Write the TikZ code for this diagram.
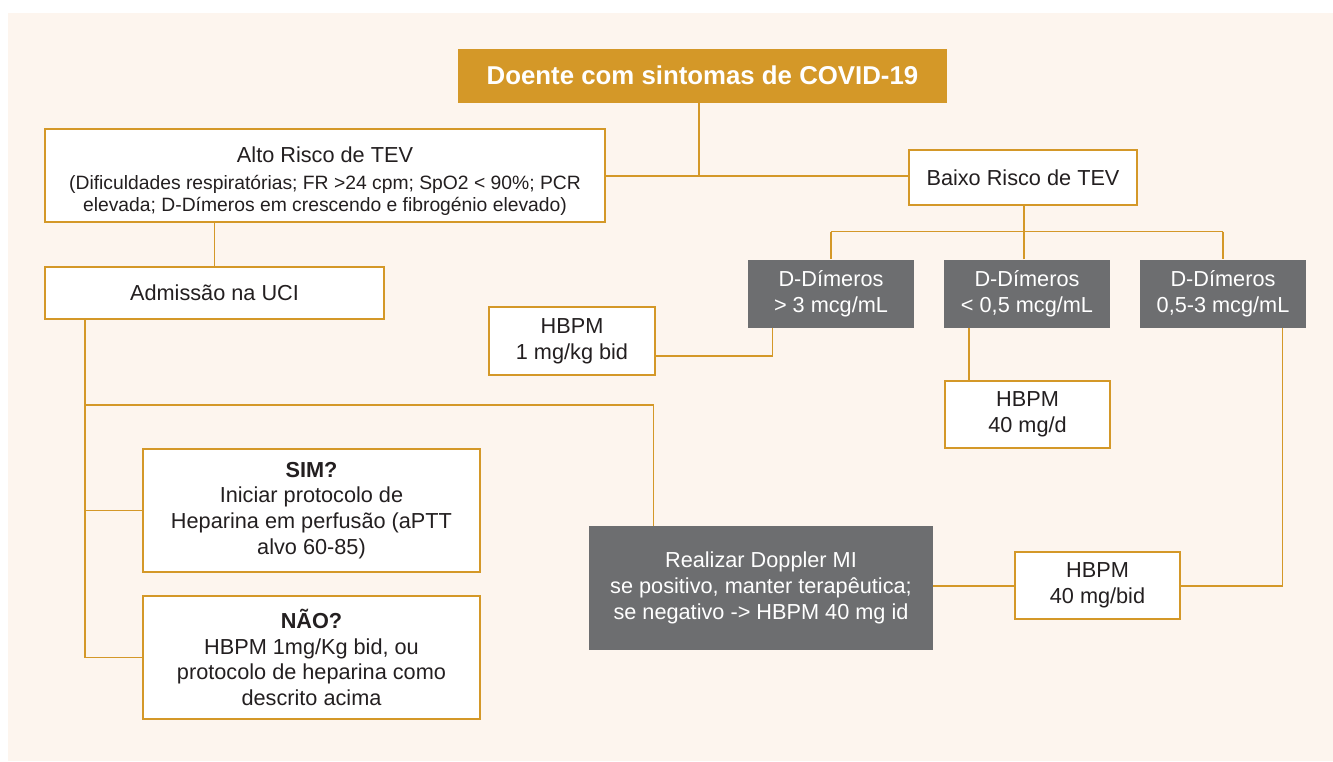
\documentclass[tikz,border=0pt]{standalone}
\usepackage{fontspec}
\setmainfont{Liberation Sans}
\definecolor{gold}{RGB}{212,152,40}
\definecolor{cream}{RGB}{253,245,238}
\definecolor{boxgray}{RGB}{109,110,112}
\definecolor{ink}{RGB}{35,31,32}
\begin{document}
\begin{tikzpicture}[x=1pt,y=-1pt,
  wbox/.style={draw=gold,line width=2pt,fill=white,text=ink,inner sep=0pt,align=center,font=\fontsize{21.7}{25.7}\selectfont},
  gbox/.style={fill=boxgray,text=white,inner sep=0pt,align=center,font=\fontsize{21.7}{26}\selectfont},
  link/.style={draw=gold,line width=1.8pt}]
\useasboundingbox (0,0) rectangle (1333,761);
\fill[cream] (8,13) rectangle (1333,761);

% nodes
\node[fill=gold,text=white,inner sep=0pt,minimum width=489pt,minimum height=54pt,font=\fontsize{25.8}{30}\selectfont\bfseries] (title) at (702.5,75.5) {Doente com sintomas de COVID-19};
\node[wbox,minimum width=560pt,minimum height=93pt,font=\fontsize{19.3}{22}\selectfont] (alto) at (325,175.5)
  {{\fontsize{21.7}{26}\selectfont\rule{0pt}{26pt}Alto Risco de TEV}\\[5pt](Dificuldades respiratórias; FR >24 cpm; SpO2 < 90\%; PCR\\elevada; D-Dímeros em crescendo e fibrogénio elevado)};
\node[wbox,minimum width=228pt,minimum height=55pt] (baixo) at (1023,177.5) {Baixo Risco de TEV};
\node[wbox,minimum width=339pt,minimum height=52pt] (adm) at (214.5,293) {Admissão na UCI};
\node[gbox,minimum width=166pt,minimum height=68pt] (d1) at (831,293.5) {D-Dímeros\\> 3 mcg/mL};
\node[gbox,minimum width=166pt,minimum height=68pt] (d2) at (1027,293.5) {D-Dímeros\\< 0,5 mcg/mL};
\node[gbox,minimum width=166pt,minimum height=68pt] (d3) at (1223,293.5) {D-Dímeros\\0,5-3 mcg/mL};
\node[wbox,minimum width=166pt,minimum height=68pt] (hb1) at (572,341) {HBPM\\1 mg/kg bid};
\node[wbox,minimum width=165pt,minimum height=67pt] (hb2) at (1027.5,414.5) {HBPM\\40 mg/d};
\node[wbox,minimum width=165pt,minimum height=67pt] (hb3) at (1097.5,585.5) {HBPM\\40 mg/bid};
\node[gbox,minimum width=344pt,minimum height=124pt] (dop) at (761,588) {Realizar Doppler MI\\se positivo, manter terapêutica;\\se negativo -> HBPM 40 mg id};
\node[wbox,minimum width=337pt,minimum height=123pt] (sim) at (311.5,510.5) {\textbf{SIM?}\\Iniciar protocolo de\\Heparina em perfusão (aPTT\\alvo 60-85)};
\node[wbox,minimum width=337pt,minimum height=123pt] (nao) at (311.5,657.5) {\textbf{NÃO?}\\HBPM 1mg/Kg bid, ou\\protocolo de heparina como\\descrito acima};

% junction coordinates
\coordinate (j1) at (699,176);
\coordinate (j2) at (1024,231.5);
\coordinate (c1) at (772.5,356);
\coordinate (c2) at (969,0);
\coordinate (c3) at (1282.5,586);
\coordinate (c4) at (85,405);
\coordinate (c5) at (653.5,405);

% connectors
\draw[link] (title.south -| j1) -- (j1);
\draw[link] (alto.east |- j1) -- (baixo.west |- j1);
\draw[link] (alto.south -| adm.north) -- (adm.north);
\draw[link] (baixo.south -| j2) -- (j2);
\draw[link] (d1.north |- j2) -- (d3.north |- j2);
\draw[link] (d1.north |- j2) -- (d1.north);
\draw[link] (d2.north -| j2) -- (j2);
\draw[link] (d3.north |- j2) -- (d3.north);
\draw[link] (d1.south -| c1) -- (c1) -- (hb1.east |- c1);
\draw[link] (d2.south -| c2) -- (hb2.north -| c2);
\draw[link] (d3.south -| c3) -- (c3) -- (hb3.east |- c3);
\draw[link] (dop.east |- c3) -- (hb3.west |- c3);
\draw[link] (adm.south -| c4) -- (c4 |- nao.west) -- (nao.west);
\draw[link] (c4 |- sim.west) -- (sim.west);
\draw[link] (c4) -- (c5) -- (dop.north -| c5);
\end{tikzpicture}
\end{document}
